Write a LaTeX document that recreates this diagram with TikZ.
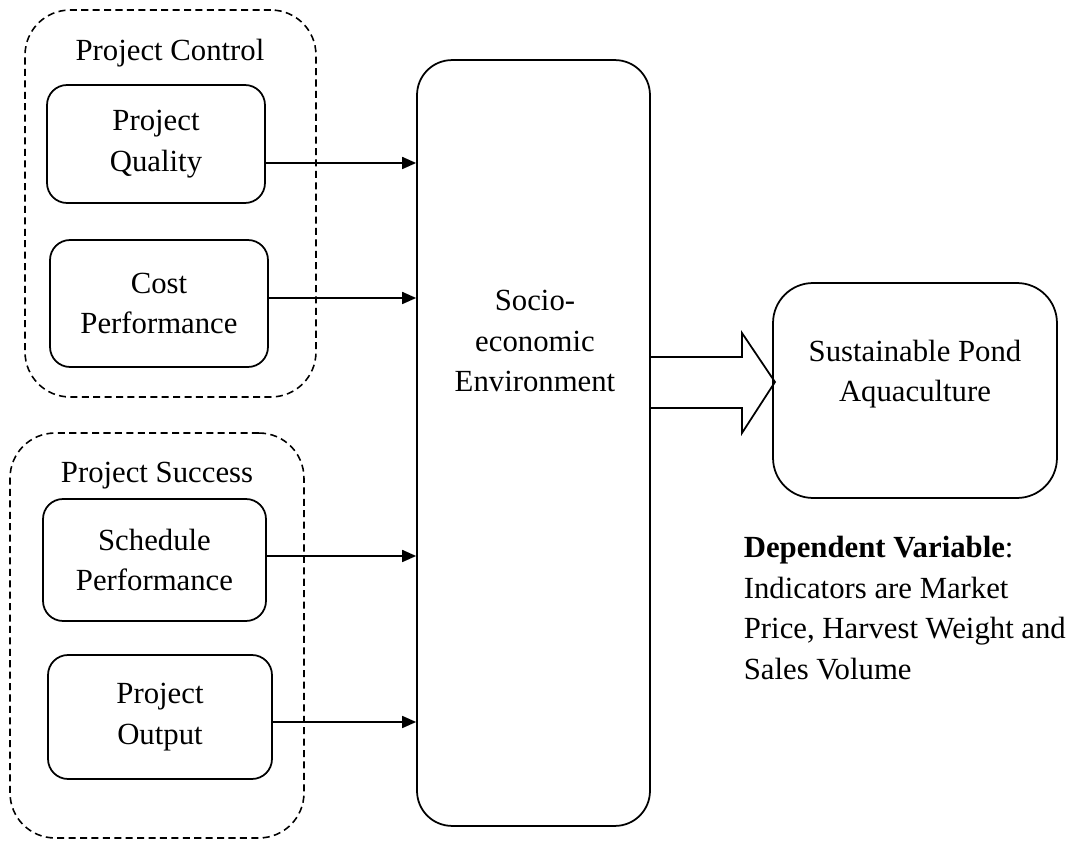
\documentclass[tikz,border=0pt]{standalone}
\usepackage{fontspec}
\setmainfont{Liberation Serif}
\usetikzlibrary{arrows.meta,positioning}
\tikzstyle{var}=[draw, rounded corners=0.4cm, inner sep=0pt, align=center, line width=1pt]
\tikzstyle{group}=[draw, dashed, dash pattern=on 4pt off 2.5pt, rounded corners=0.9cm, inner sep=0pt, line width=0.9pt]
\tikzstyle{txt}=[align=center, inner sep=0pt]

\begin{document}
\begin{tikzpicture}
[x=0.02cm, y=-0.02cm, >={Triangle[length=0.28cm,width=0.24cm]}, line width=1pt,
 font=\fontsize{17.5}{23.2}\selectfont]
\useasboundingbox (0,0) rectangle (1080,841);
% left groups
\node[group, minimum width=5.82cm, minimum height=7.74cm] (ctrl) at (170.5,203.5) {};
\node[group, minimum width=5.88cm, minimum height=8.10cm] (succ) at (157,635.5) {};
\node[txt] at (170,53) {Project Control};
\node[txt] at (157,476) {Project Success};
% independent variables
\node[var, minimum width=4.36cm, minimum height=2.36cm] (pq) at (156,144) {Project\\Quality};
\node[var, minimum width=4.36cm, minimum height=2.54cm] (cp) at (159,303.5) {Cost\\Performance};
\node[var, minimum width=4.46cm, minimum height=2.44cm] (sp) at (154.5,560) {Schedule\\Performance};
\node[var, minimum width=4.48cm, minimum height=2.48cm] (po) at (160,717) {Project\\Output};
% mediator
\node[var, rounded corners=0.7cm, minimum width=4.66cm, minimum height=15.32cm] (soc) at (533.5,443) {};
\node[txt] at (535,341) {Socio-\\economic\\Environment};
% dependent variable
\node[var, rounded corners=0.8cm, minimum width=5.68cm, minimum height=4.30cm] (spa) at (915,390.5) {};
\node[txt] at (915,374) {Sustainable Pond\\Aquaculture};
\node[txt, anchor=west, align=left] (dv) at (743,608)
  {\textbf{Dependent Variable}:\\Indicators are Market\\Price, Harvest Weight and\\Sales Volume};
\path[->]
(pq.east |- 0,163) edge (soc.west |- 0,163)
(cp.east |- 0,298) edge (soc.west |- 0,298)
(sp.east |- 0,556) edge (soc.west |- 0,556)
(po.east |- 0,722) edge (soc.west |- 0,722);
% block arrow
\draw (soc.east |- 0,357) -- (742,357) -- (742,333) -- (775,382)
  -- (742,433) -- (742,408) -- (soc.east |- 0,408);
\end{tikzpicture}
\end{document}
